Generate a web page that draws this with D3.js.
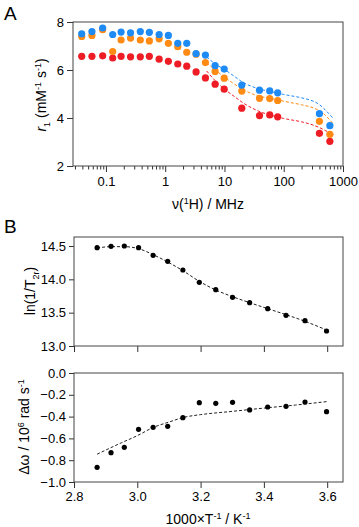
<!DOCTYPE html>
<html>
<head>
<script src="https://d3js.org/d3.v7.min.js"></script>
<style>
  body { margin: 0; background: #fff; }
  svg { font-family: "Liberation Sans", Arial, sans-serif; }
  svg text { white-space: pre; }
  .axis text { font-size: 13px; fill: #000; }
  .axis path { display: none; }
  .axis line { stroke: #333; }
</style>
</head>
<body>
<svg id="chart" width="359" height="527"></svg>
<script>
// ---- panel A : NMRD profiles ----
const freq = [0.039, 0.058, 0.088, 0.13, 0.18, 0.26, 0.38, 0.54, 0.79, 1.13, 1.63, 2.31, 3.32, 4.77, 6.95, 9.9, 19.6, 39, 58, 79, 400, 600];
const r1Blue   = [7.51, 7.60, 7.75, 7.48, 7.58, 7.55, 7.60, 7.57, 7.48, 7.44, 7.11, 7.11, 6.68, 6.62, 6.18, 6.04, 5.37, 5.16, 5.13, 5.05, 4.18, 3.68];
const r1Orange = [7.40, 7.44, 7.68, 6.77, 7.25, 7.33, 7.25, 7.21, 7.30, 7.11, 6.97, 6.74, 6.66, 6.31, 5.94, 5.66, 5.12, 4.82, 4.81, 4.73, 3.86, 3.32];
const r1Red    = [6.57, 6.57, 6.59, 6.50, 6.57, 6.55, 6.55, 6.57, 6.45, 6.36, 6.25, 6.16, 5.92, 5.67, 5.41, 5.20, 4.41, 4.10, 4.13, 4.05, 3.36, 3.03];

const fitFreq   = [5, 7, 10, 15, 20, 30, 40, 60, 100, 200, 300, 400, 500, 700];
const fitBlue   = [6.55, 6.25, 6.02, 5.72, 5.50, 5.30, 5.20, 5.10, 4.98, 4.84, 4.72, 4.56, 4.34, 3.95];
const fitOrange = [6.30, 6.00, 5.70, 5.40, 5.20, 5.00, 4.90, 4.82, 4.70, 4.55, 4.44, 4.30, 4.12, 3.72];
const fitRed    = [5.96, 5.55, 5.20, 4.88, 4.65, 4.40, 4.26, 4.12, 3.98, 3.84, 3.72, 3.60, 3.48, 3.30];

const aYTicks = [2, 4, 6, 8];
const aXTicks = [0.1, 1, 10, 100, 1000];

// ---- panel B : temperature dependence ----
const invT = [2.873, 2.917, 2.959, 3.004, 3.050, 3.096, 3.144, 3.196, 3.248, 3.301, 3.355, 3.412, 3.470, 3.530, 3.598];
const lnT2 = [14.475, 14.495, 14.50, 14.475, 14.36, 14.27, 14.14, 13.955, 13.845, 13.73, 13.65, 13.56, 13.46, 13.38, 13.225];
const lnT2Fit = [14.47, 14.49, 14.49, 14.46, 14.37, 14.26, 14.13, 13.97, 13.84, 13.74, 13.65, 13.56, 13.47, 13.37, 13.24];
const dOmega = [-0.865, -0.731, -0.682, -0.517, -0.498, -0.489, -0.410, -0.272, -0.278, -0.269, -0.339, -0.312, -0.306, -0.266, -0.355];
const dOmegaFitX = [2.873, 2.95, 3.0, 3.05, 3.1, 3.15, 3.2, 3.3, 3.4, 3.5, 3.6];
const dOmegaFit  = [-0.745, -0.64, -0.575, -0.50, -0.45, -0.405, -0.382, -0.352, -0.322, -0.294, -0.262];

const bXTicks = [2.8, 3.0, 3.2, 3.4, 3.6];
const bTopTicks = [13.0, 13.5, 14.0, 14.5];
const bBotTicks = [0.0, -0.2, -0.4, -0.6, -0.8, -1.0];

const svg = d3.select('#chart');
const frameColor = '#444';

function frame(g, x0, x1, y0, y1) {
    g.append('rect')
        .attr('x', x0).attr('y', y0)
        .attr('width', x1 - x0).attr('height', y1 - y0)
        .attr('fill', 'none').attr('stroke', frameColor).attr('stroke-width', 1);
}

// ===== Panel A =====
const ax = d3.scaleLog().domain([0.0278, 1000]).range([73, 343]);
const ay = d3.scaleLinear().domain([2, 8]).range([166, 22]);

const gA = svg.append('g');

// minor + major log ticks
const logTicks = [];
[0.01, 0.1, 1, 10, 100].forEach(dec => {
    for (let k = 1; k < 10; k++) {
        const v = dec * k;
        if (v >= 0.0278 && v <= 1000) logTicks.push(v);
    }
});
logTicks.push(1000);

const axA = gA.append('g').attr('class', 'axis')
    .attr('transform', 'translate(0,166)')
    .call(d3.axisBottom(ax).tickValues(logTicks).tickSize(6).tickPadding(5)
        .tickFormat(d => aXTicks.includes(d) ? d3.format('~g')(d) : ''));
axA.selectAll('.tick').filter(d => !aXTicks.includes(d)).select('line').attr('y2', 3.5);

gA.append('g').attr('class', 'axis')
    .attr('transform', 'translate(73,0)')
    .call(d3.axisLeft(ay).tickValues(aYTicks).tickSize(6).tickPadding(3).tickFormat(d3.format('d')));

frame(gA, 73, 343, 22, 166);

const lineA = d3.line().x(d => ax(d[0])).y(d => ay(d[1])).curve(d3.curveMonotoneX);
const seriesA = [
    { vals: r1Red, fit: fitRed, color: '#ee1c24' },
    { vals: r1Orange, fit: fitOrange, color: '#ff8a14' },
    { vals: r1Blue, fit: fitBlue, color: '#1e8bf5' }
];
seriesA.forEach(s => {
    gA.append('path')
        .datum(fitFreq.map((f, i) => [f, s.fit[i]]))
        .attr('d', lineA)
        .attr('fill', 'none').attr('stroke', s.color)
        .attr('stroke-width', 1).attr('stroke-dasharray', '3,2');
});
seriesA.forEach(s => {
    gA.append('g').selectAll('circle')
        .data(freq.map((f, i) => [f, s.vals[i]]))
        .join('circle')
        .attr('cx', d => ax(d[0])).attr('cy', d => ay(d[1]))
        .attr('r', 3.6).attr('fill', s.color);
});

gA.append('text').attr('x', 4).attr('y', 20)
    .style('font-size', '19px').text('A');

gA.append('text').attr('x', 208).attr('y', 209)
    .attr('text-anchor', 'middle').style('font-size', '14px')
    .html('ν(<tspan dy="-5" font-size="9">1</tspan><tspan dy="5">H) / MHz</tspan>');

gA.append('text')
    .attr('transform', 'translate(46,95) rotate(-90)')
    .attr('text-anchor', 'middle').style('font-size', '14px')
    .html('<tspan font-style="italic">r</tspan><tspan dy="4" font-size="9">1</tspan><tspan dy="-4"> (mM</tspan><tspan dy="-5" font-size="9">-1</tspan><tspan dy="5"> s</tspan><tspan dy="-5" font-size="9">-1</tspan><tspan dy="5">)</tspan>');

// ===== Panel B =====
const bx = d3.scaleLinear().domain([2.8, 3.65]).range([74, 343]);
const by1 = d3.scaleLinear().domain([13.0, 14.635]).range([346, 237]);
const by2 = d3.scaleLinear().domain([-1.0, 0.0]).range([482, 373]);

const gB = svg.append('g');

gB.append('g').attr('class', 'axis')
    .attr('transform', 'translate(0,346)')
    .call(d3.axisBottom(bx).tickValues(bXTicks).tickSize(6).tickFormat(''));
gB.append('g').attr('class', 'axis')
    .attr('transform', 'translate(74,0)')
    .call(d3.axisLeft(by1).tickValues(bTopTicks).tickSize(5).tickPadding(3).tickFormat(d3.format('.1f')));
frame(gB, 74, 343, 237, 346);

gB.append('g').attr('class', 'axis')
    .attr('transform', 'translate(0,482)')
    .call(d3.axisBottom(bx).tickValues(bXTicks).tickSize(6).tickPadding(4).tickFormat(d3.format('.1f')));
gB.append('g').attr('class', 'axis')
    .attr('transform', 'translate(74,0)')
    .call(d3.axisLeft(by2).tickValues(bBotTicks).tickSize(5).tickPadding(3).tickFormat(d3.format('.1f')));
frame(gB, 74, 343, 373, 482);

// fits
gB.append('path')
    .datum(invT.map((t, i) => [t, lnT2Fit[i]]))
    .attr('d', d3.line().x(d => bx(d[0])).y(d => by1(d[1])).curve(d3.curveMonotoneX))
    .attr('fill', 'none').attr('stroke', '#222').attr('stroke-width', 1).attr('stroke-dasharray', '3,2');
gB.append('path')
    .datum(dOmegaFitX.map((t, i) => [t, dOmegaFit[i]]))
    .attr('d', d3.line().x(d => bx(d[0])).y(d => by2(d[1])).curve(d3.curveMonotoneX))
    .attr('fill', 'none').attr('stroke', '#222').attr('stroke-width', 1).attr('stroke-dasharray', '3,2');

gB.append('g').selectAll('circle')
    .data(invT.map((t, i) => [t, lnT2[i]]))
    .join('circle')
    .attr('cx', d => bx(d[0])).attr('cy', d => by1(d[1]))
    .attr('r', 2.6).attr('fill', '#000');
gB.append('g').selectAll('circle')
    .data(invT.map((t, i) => [t, dOmega[i]]))
    .join('circle')
    .attr('cx', d => bx(d[0])).attr('cy', d => by2(d[1]))
    .attr('r', 2.6).attr('fill', '#000');

gB.append('text').attr('x', 4).attr('y', 233)
    .style('font-size', '19px').text('B');

gB.append('text')
    .attr('transform', 'translate(35,291) rotate(-90)')
    .attr('text-anchor', 'middle').style('font-size', '14px')
    .html('ln(1/T<tspan dy="4" font-size="9">2r</tspan><tspan dy="-4">)</tspan>');

gB.append('text')
    .attr('transform', 'translate(29,427) rotate(-90)')
    .attr('text-anchor', 'middle').style('font-size', '14px')
    .html('Δω / 10<tspan dy="-5" font-size="9">6</tspan><tspan dy="5"> rad s</tspan><tspan dy="-5" font-size="9">-1</tspan>');

gB.append('text').attr('x', 208).attr('y', 524)
    .attr('text-anchor', 'middle').style('font-size', '14px')
    .html('1000×T<tspan dy="-5" font-size="9">-1</tspan><tspan dy="5"> / K</tspan><tspan dy="-5" font-size="9">-1</tspan>');
</script>
</body>
</html>
